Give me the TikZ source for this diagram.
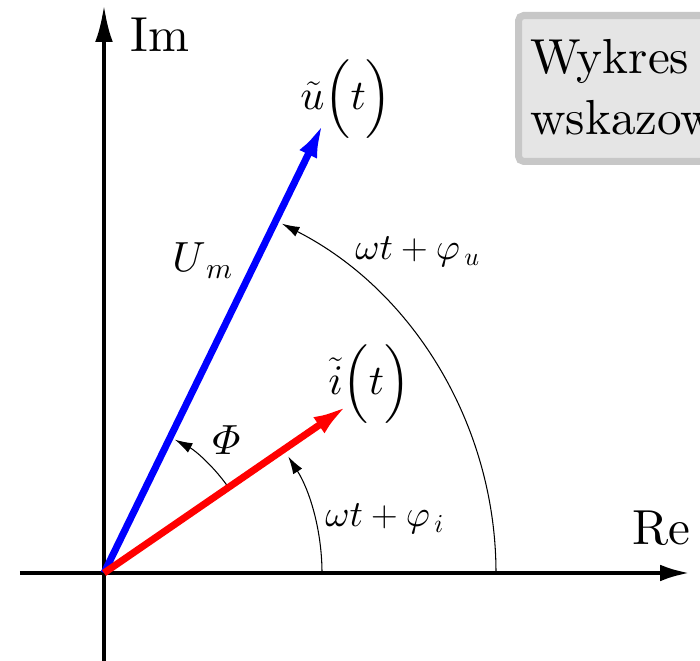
\RequirePackage{fix-cm}
\documentclass[tikz,border=0pt]{standalone}
\usepackage{amsmath}
\usepackage{fontspec}
\setmainfont{lmroman10-regular.otf}
\DeclareFontShape{OML}{cmm}{m}{it}{<->cmmi10}{}
\usetikzlibrary{arrows.meta}
\definecolor{cboxfill}{gray}{0.9}
\definecolor{cboxline}{gray}{0.78}

\begin{document}
\begin{tikzpicture}[x=0.02cm, y=0.02cm,
  axis/.style={line width=2.5pt, -{Latex[length=17pt, width=9.5pt]}},
  phasor/.style={line width=4pt, -{Latex[length=20pt, width=11pt]}},
  angarc/.style={line width=0.6pt, -{Latex[length=10pt, width=6pt]}},
  lbl/.style={inner sep=0pt, anchor=base west, font=\fontsize{24}{29}\selectfont},
  anglbl/.style={inner sep=0pt, anchor=base west, font=\fontsize{21}{25}\selectfont},
  axlbl/.style={inner sep=0pt, anchor=base west, font=\fontsize{28}{34}\selectfont},
  titlebox/.style={draw=cboxline, fill=cboxfill, line width=4pt, rounded corners=3pt, minimum width=8cm, minimum height=2.92cm, anchor=north west},
  titletext/.style={inner sep=0pt, anchor=base west, align=left, font=\fontsize{28}{35}\selectfont}
]
\useasboundingbox (-104,-88) rectangle (596,573);
\coordinate (o) at (0,0);
\coordinate (reL) at (-84,0);
\coordinate (reR) at (586,0);
\coordinate (imB) at (0,-88);
\coordinate (imT) at (0,568);
\coordinate (u) at (64:501);
\coordinate (i) at (34.5:296);
\node[titlebox] (title) at (411,561) {};
\node[titletext] (titletext) at (426,438) {Wykres\\wskazowy};
\draw[axis] (reL) -- (reR);
\draw[axis, -{Latex[length=21pt, width=10pt]}] (imB) -- (imT);
\draw[angarc] (392,0) arc[start angle=0, end angle=63, radius=392];
\draw[angarc] (218,0) arc[start angle=0, end angle=32.3, radius=218];
\draw[angarc] (35.6:151) arc[start angle=35.6, end angle=62, radius=151];
\draw[phasor, blue] (o) -- (u);
\draw[phasor, red] (o) -- (i);
\node[axlbl] (relbl) at (528,28) {Re};
\node[axlbl] (imlbl) at (26,521) {Im};
\node[lbl] (ulbl) at (196,463) {$\tilde{u}\Bigl(t\Bigr)$};
\node[lbl] (ilbl) at (224,178) {$\tilde{i}\Bigl(t\Bigr)$};
\node[lbl] (umlbl) at (68,301) {$U_{\,m}$};
\node[lbl] (philbl) at (108,118) {$\varPhi$};
\node[anglbl] (phiulbl) at (251,313) {$\omega t+\varphi_{\,u}$};
\node[anglbl] (phiilbl) at (221,46) {$\omega t+\varphi_{\,i}$};
\end{tikzpicture}
\end{document}
